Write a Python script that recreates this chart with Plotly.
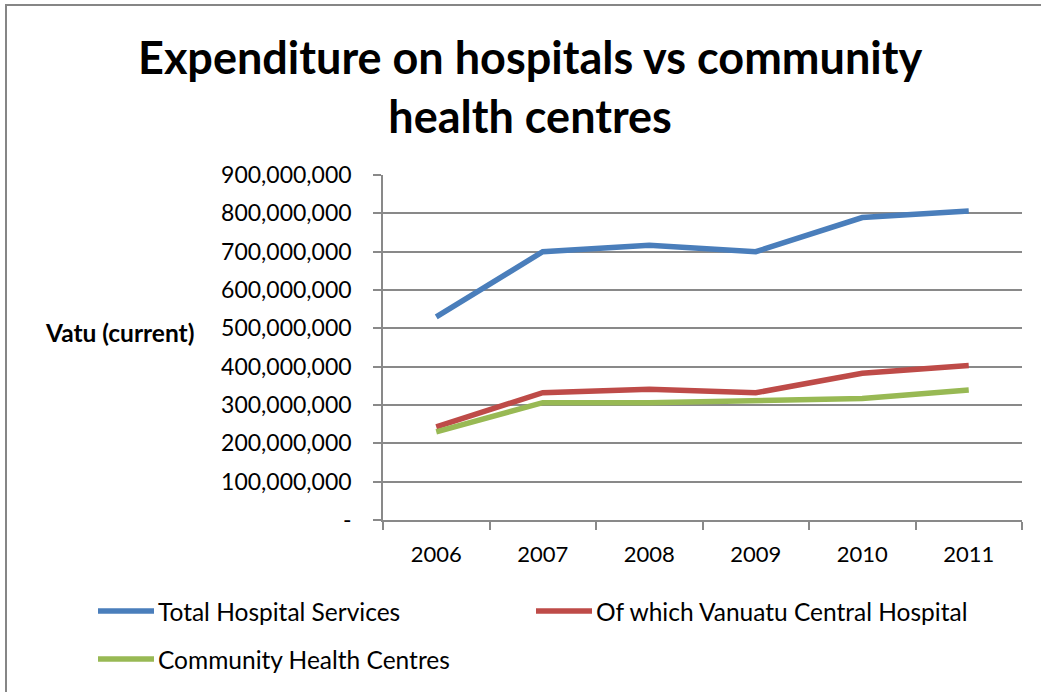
import plotly.graph_objects as go

years = ["2006", "2007", "2008", "2009", "2010", "2011"]
total_hospital = [530e6, 700e6, 717e6, 700e6, 789e6, 806e6]
central_hospital = [243e6, 332e6, 341e6, 332e6, 383e6, 403e6]
community_centres = [230e6, 306e6, 306e6, 310e6, 317e6, 339e6]

y_ticks = [0, 100e6, 200e6, 300e6, 400e6, 500e6, 600e6, 700e6, 800e6, 900e6]
y_tick_text = ["-", "100,000,000", "200,000,000", "300,000,000", "400,000,000",
               "500,000,000", "600,000,000", "700,000,000", "800,000,000", "900,000,000"]

series_names = ["Total Hospital Services", "Of which Vanuatu Central Hospital",
                "Community Health Centres"]
series_colors = ["#4A7EBB", "#BE4B48", "#98B954"]
series_values = [total_hospital, central_hospital, community_centres]

FONT = "Lato, 'Open Sans', sans-serif"
GRID = "#898989"

# plot-area geometry in pixels (used to place paper-referenced decorations)
W, H = 1041, 692
L, R, T, B = 383, 19, 175, 172
PW, PH = W - L - R, H - T - B


def px(x):
    return (x - L) / PW


def py(y):
    return (H - B - y) / PH


fig = go.Figure()
for name, vals, color in zip(series_names, series_values, series_colors):
    fig.add_trace(go.Scatter(x=years, y=vals, name=name, mode="lines",
                             line=dict(color=color, width=5.5), showlegend=False))

fig.update_layout(
    width=W, height=H,
    margin=dict(l=L, r=R, t=T, b=B),
    paper_bgcolor="white", plot_bgcolor="white",
    font=dict(family=FONT, size=23, color="black"),
)
fig.update_xaxes(type="category", showline=True, linecolor=GRID, linewidth=1.6,
                 ticks="outside", tickson="boundaries", ticklen=8, tickcolor=GRID,
                 tickwidth=1.6, showgrid=False, tickfont=dict(size=22),
                 range=[-0.5, 5.5], ticklabelstandoff=14)
fig.update_yaxes(range=[0, 900e6], tickvals=y_ticks, ticktext=y_tick_text,
                 showline=True, linecolor=GRID, linewidth=1.6,
                 ticks="outside", ticklen=8, tickcolor=GRID, tickwidth=1.6,
                 showgrid=True, gridcolor=GRID, gridwidth=1.6,
                 zeroline=False, tickfont=dict(size=23), ticklabelstandoff=17)

fig.add_annotation(text="<b>Expenditure on hospitals vs community<br>health centres</b>",
                   xref="paper", yref="paper", x=px(530), y=py(86),
                   xanchor="center", yanchor="middle", showarrow=False,
                   font=dict(size=45, color="black"))
fig.add_annotation(text="<b>Vatu (current)</b>", xref="paper", yref="paper",
                   x=px(43), y=py(332), xanchor="left",
                   yanchor="middle", showarrow=False, font=dict(size=24.5))

# legend: key line followed by series name
legend_pos = [(98, 611), (536, 611), (98, 659)]
for (lx, ly), name, color in zip(legend_pos, series_names, series_colors):
    fig.add_shape(type="line", xref="paper", yref="paper",
                  x0=px(lx), x1=px(lx + 56), y0=py(ly), y1=py(ly),
                  line=dict(color=color, width=5.5))
    fig.add_annotation(text=name, xref="paper", yref="paper",
                       x=px(lx + 58), y=py(ly), xanchor="left", yanchor="middle",
                       showarrow=False, font=dict(size=24.5))

# outer chart border
fig.add_shape(type="rect", xref="paper", yref="paper",
              x0=px(6), x1=px(1100), y0=py(760), y1=py(5),
              line=dict(color="#868686", width=2), layer="below")

fig.write_html("out.html")
